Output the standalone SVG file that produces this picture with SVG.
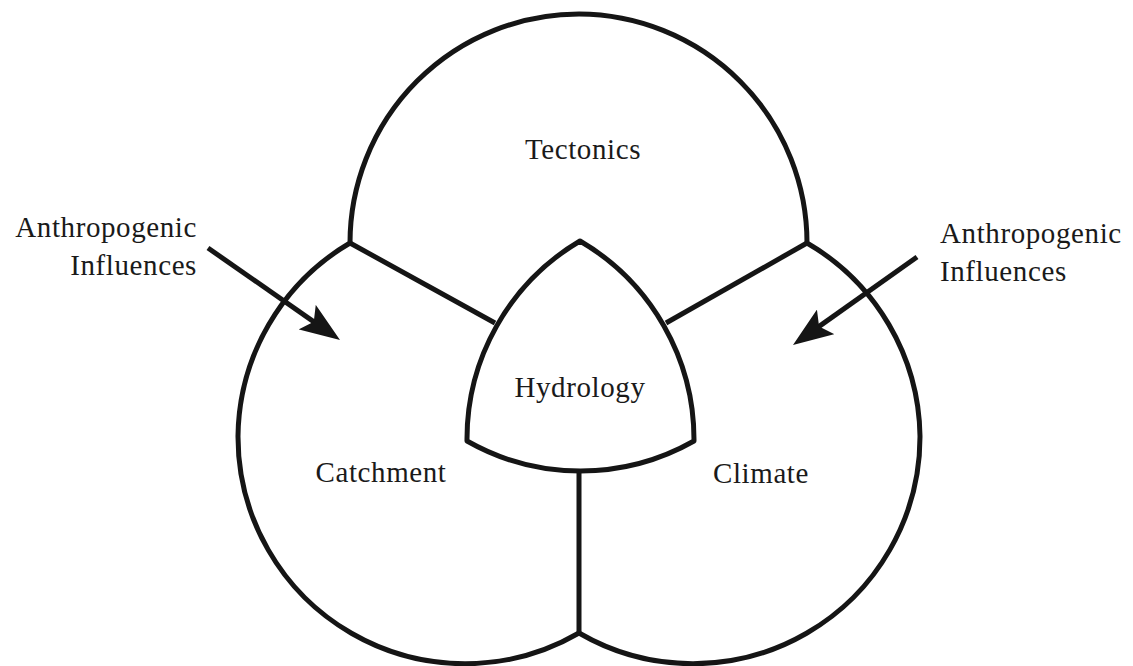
<svg xmlns="http://www.w3.org/2000/svg" width="1133" height="666" viewBox="0 0 1133 666">
<style>
.ln{fill:none;stroke:#151515;stroke-width:5;stroke-linejoin:round}
.tx{font-family:"Liberation Serif","Times New Roman",serif;font-size:29px;fill:#1a1a1a;letter-spacing:0.6px}
.m{text-anchor:middle}
.e{text-anchor:end}
</style>
<defs>
<marker id="ah" viewBox="0 0 40 30" refX="20" refY="15" markerWidth="40" markerHeight="30" markerUnits="userSpaceOnUse" orient="auto">
<path d="M0,0 L40,15 L0,30 L8,15 z" fill="#151515"/>
</marker>
</defs>
<rect width="1133" height="666" fill="#fff"/>
<g id="outer">
<path class="ln" d="M350,243 A229,229 0 0 1 579,14 A229,229 0 0 1 807,243 A227,227 0 0 1 920,436 A227,227 0 0 1 579,633 A227,227 0 0 1 238,436 A227,227 0 0 1 350,243 Z"/>
</g>
<g id="hydrology">
<path class="ln" d="M580,241 A230,230 0 0 0 467,441 A230,230 0 0 0 694,441 A230,230 0 0 0 580,241 Z"/>
<text class="tx m" x="580" y="397">Hydrology</text>
</g>
<g id="tectonics">
<text class="tx m" x="583" y="159">Tectonics</text>
</g>
<g id="catchment">
<text class="tx m" x="381" y="482">Catchment</text>
</g>
<g id="climate">
<text class="tx m" x="761" y="483">Climate</text>
</g>
<g id="anthro-left">
<text class="tx e" x="197" y="237">Anthropogenic</text>
<text class="tx e" x="197" y="275">Influences</text>
</g>
<g id="anthro-right">
<text class="tx" x="940" y="243">Anthropogenic</text>
<text class="tx" x="940" y="281">Influences</text>
</g>
<g id="connectors">
<line class="ln" x1="350" y1="243" x2="495" y2="323"/>
<line class="ln" x1="807" y1="243" x2="666" y2="323"/>
<line class="ln" x1="579" y1="471" x2="579" y2="633"/>
<line class="ln" x1="208" y1="248" x2="323.6" y2="328.6" marker-end="url(#ah)"/>
<line class="ln" x1="917" y1="257" x2="809.3" y2="333.4" marker-end="url(#ah)"/>
</g>
</svg>
